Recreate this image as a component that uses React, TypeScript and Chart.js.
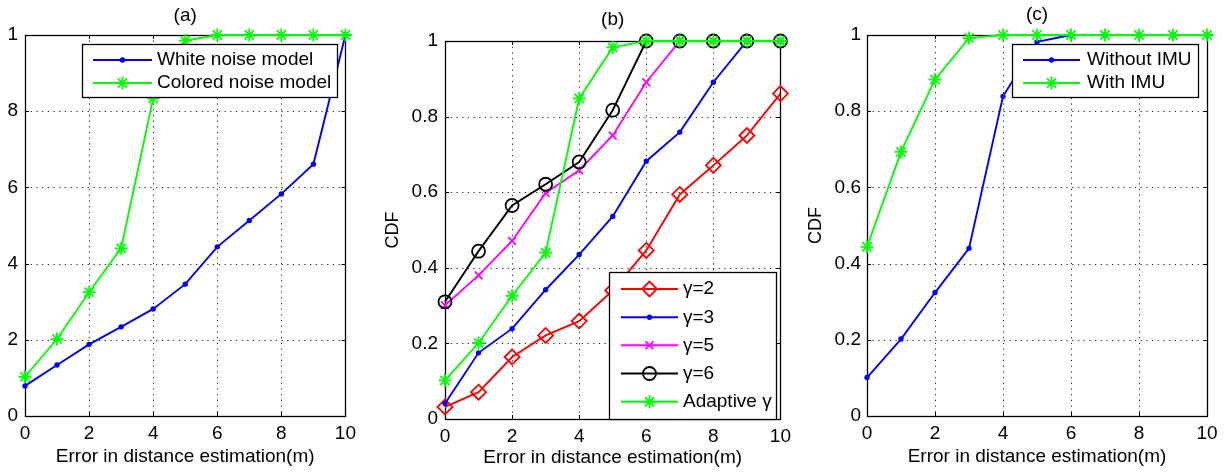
import React, { useEffect, useRef } from 'react';
import { Chart, registerables } from 'chart.js';
import { drawPoint } from 'chart.js/helpers';

Chart.register(...registerables);

const FONT = '"Liberation Sans", Arial, Helvetica, sans-serif';

// ---------- data ----------
const xValues = [0, 1, 2, 3, 4, 5, 6, 7, 8, 9, 10];
const xTicks = [0, 2, 4, 6, 8, 10];
const yTicks = [0, 0.2, 0.4, 0.6, 0.8, 1];
const yTickLabelsA = ['0', '2', '4', '6', '8', '1'];
const yTickLabelsBC = ['0', '0.2', '0.4', '0.6', '0.8', '1'];
const xAxisTitle = 'Error in distance estimation(m)';
const yAxisTitle = 'CDF';
const panelTitles = ['(a)', '(b)', '(c)'];

// panel (a)
const labelsA = ['White noise model', 'Colored noise model'];
const whiteNoise = [0.079, 0.134, 0.188, 0.234, 0.281, 0.346, 0.444, 0.513, 0.583, 0.661, 1.0];
const coloredNoise = [0.103, 0.202, 0.325, 0.44, 0.834, 0.985, 1, 1, 1, 1, 1];

// panel (b)
const labelsB = ['γ=2', 'γ=3', 'γ=5', 'γ=6', 'Adaptive γ'];
const gamma2 = [0.032, 0.071, 0.164, 0.221, 0.259, 0.34, 0.446, 0.594, 0.671, 0.75, 0.861];
const gamma3 = [0.041, 0.175, 0.239, 0.342, 0.435, 0.536, 0.682, 0.759, 0.891, 1, 1];
const gamma5 = [0.301, 0.38, 0.471, 0.598, 0.658, 0.75, 0.891, 1, 1, 1, 1];
const gamma6 = [0.31, 0.444, 0.565, 0.621, 0.68, 0.817, 1, 1, 1, 1, 1];
const gammaAdaptive = [0.102, 0.201, 0.326, 0.44, 0.848, 0.983, 1, 1, 1, 1, 1];

// panel (c)
const labelsC = ['Without IMU', 'With IMU'];
const withoutImu = [0.101, 0.202, 0.324, 0.44, 0.839, 0.982, 1, 1, 1, 1, 1];
const withImu = [0.444, 0.693, 0.883, 0.992, 1, 1, 1, 1, 1, 1, 1];

// ---------- styling helpers ----------
type Style = { color: string; pointStyle: any; radius: number; fill: string; order: number };
const BLUE_DOT: Style = { color: '#0000ff', pointStyle: 'circle', radius: 1.8, fill: '#0000ff', order: 4 };
const GREEN_STAR: Style = { color: '#00ff00', pointStyle: 'star', radius: 6.5, fill: 'rgba(0,0,0,0)', order: 0 };
const RED_DIAMOND: Style = { color: '#ff0000', pointStyle: 'rectRot', radius: 7.5, fill: 'rgba(0,0,0,0)', order: 5 };
const MAGENTA_X: Style = { color: '#ff00ff', pointStyle: 'crossRot', radius: 5.5, fill: 'rgba(0,0,0,0)', order: 3 };
const BLACK_CIRCLE: Style = { color: '#000000', pointStyle: 'circle', radius: 6.5, fill: 'rgba(0,0,0,0)', order: 2 };

const LINE_W = 1.9;

function makeDataset(label: string, values: number[], s: Style) {
  return {
    label,
    data: xValues.map((x, i) => ({ x, y: values[i] })),
    borderColor: s.color,
    backgroundColor: s.fill,
    borderWidth: LINE_W,
    pointStyle: s.pointStyle,
    pointRadius: s.radius,
    pointBorderWidth: 1.8,
    pointBorderColor: s.color,
    pointBackgroundColor: s.fill,
    order: s.order,
    clip: false as any,
    tension: 0,
  };
}

type LegendCfg = { x: number; y: number; w: number; h: number; lineX0: number; lineX1: number; textX: number; rows: number[] };
type PanelCfg = {
  left: number; width: number; yAxisWidth: number; padRight: number; padTop: number; xAxisHeight: number;
  yTickPad: number; yTitlePad: number | null; xTitlePad: number; titleOffset: number;
  yLabels: string[]; title: string; datasets: any[]; legendOrder: number[]; legend: LegendCfg;
};

const framePlugin = {
  id: 'matlabFrame',
  beforeDatasetsDraw(chart: any) {
    const { ctx, chartArea } = chart;
    const { left, right, top, bottom } = chartArea;
    const xs = chart.scales.x;
    const ys = chart.scales.y;
    ctx.save();
    // dotted grid
    ctx.strokeStyle = '#222';
    ctx.lineWidth = 1;
    ctx.setLineDash([1.2, 4.5]);
    xTicks.forEach((v) => {
      if (v === xTicks[0] || v === xTicks[xTicks.length - 1]) return;
      const px = Math.round(xs.getPixelForValue(v)) + 0.5;
      ctx.beginPath(); ctx.moveTo(px, top); ctx.lineTo(px, bottom); ctx.stroke();
    });
    yTicks.forEach((v) => {
      if (v === yTicks[0] || v === yTicks[yTicks.length - 1]) return;
      const py = Math.round(ys.getPixelForValue(v)) + 0.5;
      ctx.beginPath(); ctx.moveTo(left, py); ctx.lineTo(right, py); ctx.stroke();
    });
    ctx.setLineDash([]);
    // inward ticks
    ctx.strokeStyle = '#000';
    const tl = 4;
    xTicks.forEach((v) => {
      const px = Math.round(xs.getPixelForValue(v)) + 0.5;
      ctx.beginPath(); ctx.moveTo(px, bottom); ctx.lineTo(px, bottom - tl);
      ctx.moveTo(px, top); ctx.lineTo(px, top + tl); ctx.stroke();
    });
    yTicks.forEach((v) => {
      const py = Math.round(ys.getPixelForValue(v)) + 0.5;
      ctx.beginPath(); ctx.moveTo(left, py); ctx.lineTo(left + tl, py);
      ctx.moveTo(right, py); ctx.lineTo(right - tl, py); ctx.stroke();
    });
    // box
    ctx.lineWidth = 1.3;
    ctx.strokeRect(Math.round(left) + 0.5, Math.round(top) + 0.5, Math.round(right - left), Math.round(bottom - top));
    ctx.restore();
  },
  afterDatasetsDraw(chart: any, _args: any, opts: any) {
    const { ctx, chartArea } = chart;
    const cfg: PanelCfg = opts.cfg;
    ctx.save();
    // title
    ctx.fillStyle = '#000';
    ctx.font = `19px ${FONT}`;
    ctx.textAlign = 'center';
    ctx.textBaseline = 'middle';
    ctx.fillText(cfg.title, (chartArea.left + chartArea.right) / 2, chartArea.top - cfg.titleOffset);
    // legend
    const L = cfg.legend;
    ctx.fillStyle = '#fff';
    ctx.fillRect(L.x, L.y, L.w, L.h);
    ctx.strokeStyle = '#000';
    ctx.lineWidth = 1.3;
    ctx.strokeRect(L.x + 0.5, L.y + 0.5, L.w, L.h);
    cfg.legendOrder.forEach((di, row) => {
      const ds = chart.data.datasets[di];
      const y = L.rows[row];
      ctx.strokeStyle = ds.borderColor;
      ctx.lineWidth = LINE_W;
      ctx.beginPath(); ctx.moveTo(L.lineX0, y); ctx.lineTo(L.lineX1, y); ctx.stroke();
      ctx.fillStyle = ds.pointBackgroundColor;
      ctx.strokeStyle = ds.pointBorderColor;
      ctx.lineWidth = 1.8;
      drawPoint(ctx, { pointStyle: ds.pointStyle, radius: ds.pointRadius, borderWidth: 1.8, rotation: 0 } as any,
        (L.lineX0 + L.lineX1) / 2, y);
      ctx.fillStyle = '#000';
      ctx.font = `19px ${FONT}`;
      ctx.textAlign = 'left';
      ctx.textBaseline = 'middle';
      ctx.fillText(ds.label, L.textX, y);
    });
    ctx.restore();
  },
};

const panels: PanelCfg[] = [
  {
    left: 0, width: 362, yAxisWidth: 25, padRight: 15, padTop: 35, xAxisHeight: 57,
    yTickPad: 7, yTitlePad: null, xTitlePad: 7, titleOffset: 19.5,
    yLabels: yTickLabelsA, title: panelTitles[0],
    datasets: [
      makeDataset(labelsA[0], whiteNoise, { ...BLUE_DOT, order: 1 }),
      makeDataset(labelsA[1], coloredNoise, GREEN_STAR),
    ],
    legendOrder: [0, 1],
    legend: { x: 82, y: 44, w: 255, h: 53, lineX0: 93, lineX1: 152, textX: 157, rows: [60, 83] },
  },
  {
    left: 380, width: 417, yAxisWidth: 65, padRight: 15, padTop: 41, xAxisHeight: 54,
    yTickPad: 7, yTitlePad: 4.5, xTitlePad: 5.5, titleOffset: 21,
    yLabels: yTickLabelsBC, title: panelTitles[1],
    datasets: [
      makeDataset(labelsB[0], gamma2, RED_DIAMOND),
      makeDataset(labelsB[1], gamma3, BLUE_DOT),
      makeDataset(labelsB[2], gamma5, MAGENTA_X),
      makeDataset(labelsB[3], gamma6, BLACK_CIRCLE),
      makeDataset(labelsB[4], gammaAdaptive, { ...GREEN_STAR, order: 1 }),
    ],
    legendOrder: [0, 1, 2, 3, 4],
    legend: { x: 229, y: 272, w: 167, h: 147, lineX0: 241, lineX1: 298, textX: 303, rows: [289, 317.3, 345.3, 373.5, 401.7] },
  },
  {
    left: 800, width: 425, yAxisWidth: 67, padRight: 18, padTop: 35, xAxisHeight: 57,
    yTickPad: 6, yTitlePad: 7, xTitlePad: 7, titleOffset: 20,
    yLabels: yTickLabelsBC, title: panelTitles[2],
    datasets: [
      makeDataset(labelsC[0], withoutImu, { ...BLUE_DOT, order: 1 }),
      makeDataset(labelsC[1], withImu, GREEN_STAR),
    ],
    legendOrder: [0, 1],
    legend: { x: 212, y: 44, w: 186, h: 53, lineX0: 223, lineX1: 280, textX: 287, rows: [60, 83] },
  },
];

function Panel({ cfg }: { cfg: PanelCfg }) {
  const ref = useRef<HTMLCanvasElement | null>(null);
  useEffect(() => {
    if (!ref.current) return;
    const chart = new Chart(ref.current, {
      type: 'line',
      data: { datasets: cfg.datasets },
      plugins: [framePlugin],
      options: {
        animation: false,
        responsive: false,
        devicePixelRatio: 1,
        layout: { padding: { top: cfg.padTop, right: cfg.padRight, left: 0, bottom: 0 } },
        plugins: {
          legend: { display: false },
          tooltip: { enabled: false },
          title: { display: false },
          matlabFrame: { cfg },
        } as any,
        scales: {
          x: {
            type: 'linear',
            min: 0,
            max: 10,
            afterBuildTicks: (s: any) => { s.ticks = xTicks.map((v) => ({ value: v })); },
            afterFit: (s: any) => { s.height = cfg.xAxisHeight; },
            grid: { display: false, drawTicks: false },
            border: { display: false },
            ticks: {
              padding: 6,
              color: '#000',
              maxRotation: 0,
              font: { family: FONT, size: 19 },
              callback: (v: any) => String(v),
            },
            title: {
              display: true,
              text: xAxisTitle,
              color: '#000',
              font: { family: FONT, size: 19, lineHeight: 1 },
              padding: { top: 0, bottom: cfg.xTitlePad },
            },
          },
          y: {
            type: 'linear',
            min: 0,
            max: 1,
            afterBuildTicks: (s: any) => { s.ticks = yTicks.map((v) => ({ value: v })); },
            afterFit: (s: any) => { s.width = cfg.yAxisWidth; },
            grid: { display: false, drawTicks: false },
            border: { display: false },
            ticks: {
              padding: cfg.yTickPad,
              color: '#000',
              font: { family: FONT, size: 19 },
              callback: (v: any) => {
                const i = yTicks.findIndex((t) => Math.abs(t - Number(v)) < 1e-6);
                return i >= 0 ? cfg.yLabels[i] : '';
              },
            },
            title: {
              display: cfg.yTitlePad !== null,
              text: yAxisTitle,
              color: '#000',
              font: { family: FONT, size: 18, lineHeight: 1 },
              padding: { top: cfg.yTitlePad ?? 0, bottom: 0 },
            },
          },
        },
      } as any,
    });
    return () => chart.destroy();
  }, [cfg]);
  return (
    <canvas
      ref={ref}
      width={cfg.width}
      height={473}
      style={{ position: 'absolute', left: cfg.left, top: 0, width: cfg.width, height: 473 }}
    />
  );
}

export default function App() {
  return (
    <div style={{ position: 'fixed', left: 0, top: 0, width: 1225, height: 473, background: '#fff' }}>
      {panels.map((p, i) => (
        <Panel key={i} cfg={p} />
      ))}
    </div>
  );
}
